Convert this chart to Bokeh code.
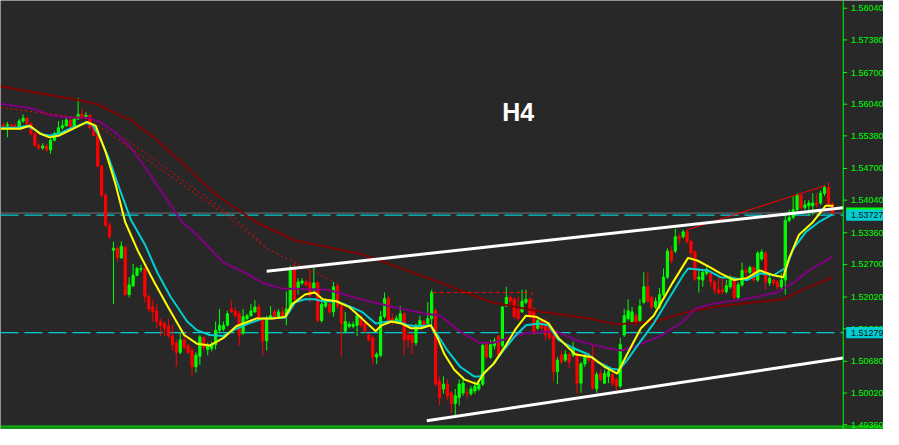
from bokeh.plotting import figure
from bokeh.models import Span, Label, Range1d, ColumnDataSource
from bokeh.embed import file_html
from bokeh.resources import INLINE
from bokeh.core.properties import value

# ---------------- data (H4 candles) ----------------
opens = [
    1.55609, 1.55589, 1.55609, 1.55589, 1.55569, 1.55690, 1.55750, 1.55629, 1.55429, 1.55187,
    1.55127, 1.55167, 1.55087, 1.55288, 1.55429, 1.55549, 1.55589, 1.55710, 1.55569, 1.55730,
    1.55830, 1.55770, 1.55810, 1.55549, 1.55388, 1.54746, 1.54143, 1.53520, 1.52998, 1.53038,
    1.52837, 1.53058, 1.52074, 1.52254, 1.52475, 1.52596, 1.52616, 1.52033, 1.51812, 1.51732,
    1.51511, 1.51471, 1.51411, 1.51210, 1.51069, 1.50868, 1.51130, 1.51009, 1.50908, 1.50567,
    1.50788, 1.51170, 1.50928, 1.50949, 1.51029, 1.51330, 1.51350, 1.51431, 1.51772, 1.51732,
    1.51672, 1.51270, 1.51571, 1.51632, 1.51712, 1.51812, 1.51571, 1.51109, 1.51571, 1.51712,
    1.51611, 1.51712, 1.51632, 1.51772, 1.52616, 1.52214, 1.52315, 1.52335, 1.52315, 1.52174,
    1.52315, 1.51531, 1.51832, 1.51873, 1.51712, 1.52254, 1.51832, 1.51310, 1.51411, 1.51411,
    1.51431, 1.51611, 1.51471, 1.51230, 1.51170, 1.50768, 1.50808, 1.51611, 1.51993, 1.51571,
    1.51511, 1.51511, 1.51672, 1.51230, 1.51230, 1.51069, 1.51431, 1.51511, 1.51471, 1.51571,
    1.51732, 1.50265, 1.50105, 1.50205, 1.50024, 1.49803, 1.49924, 1.50024, 1.50024, 1.50004,
    1.50065, 1.50105, 1.50205, 1.51029, 1.50768, 1.51009, 1.51210, 1.51009, 1.51832, 1.52013,
    1.51973, 1.51772, 1.51712, 1.51913, 1.51973, 1.51772, 1.51370, 1.51511, 1.51431, 1.51411,
    1.51210, 1.50466, 1.50808, 1.50707, 1.50828, 1.50808, 1.50828, 1.50225, 1.50627, 1.50828,
    1.50707, 1.50105, 1.50426, 1.50225, 1.50366, 1.50406, 1.50306, 1.50165, 1.51230, 1.51571,
    1.51511, 1.51632, 1.51531, 1.51913, 1.52234, 1.52013, 1.51812, 1.51812, 1.52074, 1.52435,
    1.52978, 1.52978, 1.53279, 1.53279, 1.53379, 1.53178, 1.52958, 1.52395, 1.52375, 1.52516,
    1.52516, 1.52335, 1.52174, 1.52174, 1.52134, 1.52234, 1.52415, 1.52013, 1.52274, 1.52576,
    1.52536, 1.52636, 1.52375, 1.52817, 1.52937, 1.52315, 1.52375, 1.52335, 1.52234, 1.52375,
    1.53620, 1.53681, 1.53841, 1.54143, 1.53882, 1.53922, 1.53922, 1.53982, 1.53982, 1.54183,
    1.54304, 1.53942,
]
highs = [
    1.55650, 1.55670, 1.55629, 1.55650, 1.55730, 1.55830, 1.55770, 1.55670, 1.55449, 1.55228,
    1.55228, 1.55208, 1.55328, 1.55469, 1.55690, 1.55710, 1.55750, 1.55730, 1.55770, 1.56172,
    1.55951, 1.55871, 1.55830, 1.55629, 1.55449, 1.54786, 1.54183, 1.53580, 1.53178, 1.53078,
    1.53178, 1.53078, 1.52435, 1.52716, 1.52656, 1.52696, 1.52636, 1.52074, 1.51973, 1.51873,
    1.51571, 1.51511, 1.51571, 1.51431, 1.51130, 1.51270, 1.51230, 1.51049, 1.50969, 1.50868,
    1.51230, 1.51210, 1.51069, 1.51089, 1.51511, 1.51772, 1.51511, 1.51732, 1.51953, 1.51812,
    1.51732, 1.51772, 1.51672, 1.51873, 1.51953, 1.51873, 1.51611, 1.51632, 1.51832, 1.51772,
    1.51772, 1.51812, 1.52134, 1.52676, 1.52716, 1.52415, 1.52415, 1.52395, 1.52576, 1.52636,
    1.52355, 1.51913, 1.51973, 1.51913, 1.52335, 1.52315, 1.51873, 1.51712, 1.51511, 1.51511,
    1.51672, 1.51652, 1.51511, 1.51270, 1.51210, 1.50868, 1.51732, 1.52114, 1.52033, 1.51672,
    1.51632, 1.51832, 1.51712, 1.51330, 1.51270, 1.51471, 1.51632, 1.51551, 1.51913, 1.52174,
    1.51772, 1.50366, 1.50366, 1.50306, 1.50065, 1.50105, 1.50306, 1.50326, 1.50125, 1.50165,
    1.50265, 1.50265, 1.51069, 1.51069, 1.51130, 1.51170, 1.51230, 1.51832, 1.52234, 1.52053,
    1.52013, 1.52033, 1.52174, 1.52174, 1.52013, 1.51812, 1.51571, 1.51531, 1.51571, 1.51451,
    1.51310, 1.50768, 1.50908, 1.50908, 1.50868, 1.51089, 1.50868, 1.50667, 1.50868, 1.50868,
    1.51009, 1.50466, 1.50507, 1.50507, 1.50507, 1.50446, 1.50346, 1.51169, 1.51772, 1.51973,
    1.51812, 1.51672, 1.51973, 1.52536, 1.52536, 1.52053, 1.52013, 1.52214, 1.52616, 1.53038,
    1.53078, 1.53440, 1.53339, 1.53420, 1.53420, 1.53219, 1.52998, 1.52616, 1.52576, 1.52656,
    1.52576, 1.52375, 1.52435, 1.52435, 1.52375, 1.52475, 1.52455, 1.52335, 1.52737, 1.52636,
    1.52676, 1.52656, 1.52978, 1.53018, 1.52978, 1.52516, 1.52395, 1.52375, 1.52516, 1.53781,
    1.53841, 1.54123, 1.54183, 1.54183, 1.54042, 1.54042, 1.54183, 1.54183, 1.54243, 1.54344,
    1.54424, 1.54002,
]
lows = [
    1.55529, 1.55348, 1.55549, 1.55509, 1.55549, 1.55650, 1.55609, 1.55388, 1.55147, 1.55087,
    1.55087, 1.55047, 1.55007, 1.55268, 1.55408, 1.55509, 1.55569, 1.55529, 1.55549, 1.55710,
    1.55730, 1.55750, 1.55509, 1.55368, 1.54725, 1.54103, 1.53480, 1.53239, 1.51873, 1.52757,
    1.52817, 1.52033, 1.52013, 1.52234, 1.52455, 1.52536, 1.51913, 1.51712, 1.51511, 1.51370,
    1.51210, 1.51210, 1.51170, 1.50908, 1.50567, 1.50828, 1.50928, 1.50828, 1.50366, 1.50446,
    1.50607, 1.50908, 1.50808, 1.50888, 1.50928, 1.51270, 1.51310, 1.51411, 1.51692, 1.51591,
    1.51009, 1.51230, 1.51531, 1.51611, 1.51692, 1.51511, 1.50808, 1.50908, 1.51551, 1.51531,
    1.51571, 1.51571, 1.51431, 1.51712, 1.51953, 1.52074, 1.52274, 1.52234, 1.51913, 1.52094,
    1.51491, 1.51491, 1.51792, 1.51672, 1.51611, 1.51772, 1.50768, 1.51270, 1.51370, 1.51370,
    1.51210, 1.51390, 1.51270, 1.51089, 1.50607, 1.50627, 1.50768, 1.51571, 1.51471, 1.51431,
    1.51471, 1.51471, 1.50808, 1.50969, 1.50828, 1.51009, 1.51390, 1.51390, 1.51431, 1.51431,
    1.50165, 1.49763, 1.50004, 1.49864, 1.49602, 1.49562, 1.49763, 1.49964, 1.49904, 1.49964,
    1.50004, 1.50065, 1.50165, 1.50728, 1.50728, 1.50928, 1.50768, 1.50969, 1.51812, 1.51832,
    1.51571, 1.51531, 1.51692, 1.51873, 1.51571, 1.51230, 1.51330, 1.51310, 1.51129, 1.51129,
    1.50265, 1.50205, 1.50627, 1.50667, 1.50527, 1.50768, 1.50004, 1.50024, 1.50567, 1.50667,
    1.50085, 1.50024, 1.50265, 1.50205, 1.50225, 1.50165, 1.50004, 1.50125, 1.51190, 1.51531,
    1.51471, 1.51431, 1.51491, 1.51873, 1.51893, 1.51772, 1.51772, 1.51772, 1.52033, 1.52395,
    1.52716, 1.52937, 1.53118, 1.53239, 1.53138, 1.52837, 1.52355, 1.52114, 1.52234, 1.52475,
    1.52234, 1.52074, 1.52074, 1.52074, 1.52094, 1.52194, 1.51973, 1.51973, 1.52234, 1.52435,
    1.52495, 1.52335, 1.52335, 1.52777, 1.52174, 1.52254, 1.52254, 1.52174, 1.52174, 1.52074,
    1.53580, 1.53641, 1.53801, 1.53841, 1.53841, 1.53721, 1.53721, 1.53882, 1.53942, 1.54123,
    1.53902, 1.53741,
]
closes = [
    1.55589, 1.55609, 1.55589, 1.55569, 1.55690, 1.55750, 1.55629, 1.55429, 1.55187, 1.55127,
    1.55167, 1.55087, 1.55288, 1.55429, 1.55549, 1.55589, 1.55710, 1.55569, 1.55730, 1.55830,
    1.55770, 1.55810, 1.55549, 1.55388, 1.54746, 1.54143, 1.53520, 1.53279, 1.53038, 1.52837,
    1.53078, 1.52074, 1.52274, 1.52475, 1.52616, 1.52616, 1.52033, 1.51772, 1.51712, 1.51511,
    1.51431, 1.51370, 1.51210, 1.51029, 1.50868, 1.51130, 1.50969, 1.50868, 1.50567, 1.50808,
    1.51190, 1.50969, 1.51009, 1.51029, 1.51330, 1.51431, 1.51431, 1.51672, 1.51712, 1.51632,
    1.51230, 1.51611, 1.51632, 1.51732, 1.51812, 1.51571, 1.51109, 1.51571, 1.51632, 1.51571,
    1.51712, 1.51632, 1.51772, 1.52616, 1.51973, 1.52335, 1.52355, 1.52274, 1.52053, 1.52315,
    1.51531, 1.51873, 1.51913, 1.51712, 1.52234, 1.51832, 1.51471, 1.51511, 1.51451, 1.51451,
    1.51632, 1.51431, 1.51310, 1.51130, 1.50768, 1.50828, 1.51611, 1.51993, 1.51511, 1.51511,
    1.51571, 1.51672, 1.51130, 1.51130, 1.51069, 1.51431, 1.51531, 1.51431, 1.51571, 1.52114,
    1.50205, 1.49924, 1.50205, 1.49964, 1.49803, 1.49964, 1.50205, 1.50225, 1.50004, 1.50105,
    1.50165, 1.50205, 1.51009, 1.50768, 1.51029, 1.51109, 1.50808, 1.51812, 1.52013, 1.51933,
    1.51611, 1.51571, 1.51933, 1.51973, 1.51611, 1.51270, 1.51531, 1.51370, 1.51230, 1.51170,
    1.50466, 1.50707, 1.50667, 1.50828, 1.50667, 1.50969, 1.50225, 1.50627, 1.50768, 1.50707,
    1.50125, 1.50406, 1.50306, 1.50426, 1.50466, 1.50225, 1.50165, 1.51029, 1.51632, 1.51732,
    1.51712, 1.51471, 1.51832, 1.52234, 1.51933, 1.51812, 1.51933, 1.52074, 1.52435, 1.52978,
    1.52777, 1.53279, 1.53239, 1.53379, 1.53178, 1.52937, 1.52395, 1.52435, 1.52536, 1.52596,
    1.52335, 1.52174, 1.52114, 1.52134, 1.52254, 1.52415, 1.52013, 1.52274, 1.52576, 1.52536,
    1.52636, 1.52375, 1.52937, 1.52958, 1.52335, 1.52415, 1.52315, 1.52234, 1.52375, 1.53620,
    1.53681, 1.53841, 1.54143, 1.53882, 1.53942, 1.53982, 1.53982, 1.53942, 1.54183, 1.54304,
    1.53942, 1.53771,
]

# moving averages (bar index, price)
yellow_x = [-0.75, 4.25, 6.75, 9.25, 11.75, 14.25, 19.25, 21.25, 23.5, 26, 28.5, 31, 34.25, 38.5,
            41.75, 46, 49.25, 52.5, 56, 59.25, 64.25, 68.5, 71.75, 73.5, 76.75, 79.25, 81.25,
            84.75, 88, 91.25, 94.75, 96.25, 98.75, 101.25, 103.75, 106.25, 108.75, 110.5, 112.25,
            114.75, 117.25, 120.5, 122.25, 124.75, 128, 130.5, 133, 135.5, 138.75, 141.25, 145.5,
            149.75, 153, 156.25, 158.75, 162.25, 165.5, 170, 174.25, 176.75, 180, 182.5, 186,
            189.25, 192.5, 196, 198.5, 200, 202.5, 206, 209.25, 211.25]
yellow_y = [1.55529, 1.55529, 1.55589, 1.55429, 1.55348, 1.55388, 1.55589, 1.55670, 1.55589,
            1.55047, 1.54384, 1.53580, 1.52978, 1.52315, 1.51832, 1.51230, 1.51049, 1.51009,
            1.51169, 1.51411, 1.51571, 1.51571, 1.51611, 1.51873, 1.52074, 1.52114, 1.51973,
            1.51933, 1.51812, 1.51571, 1.51310, 1.51431, 1.51511, 1.51471, 1.51370, 1.51370,
            1.51431, 1.51169, 1.50828, 1.50507, 1.50306, 1.50205, 1.50426, 1.50627, 1.51029,
            1.51370, 1.51632, 1.51611, 1.51471, 1.51169, 1.50828, 1.50768, 1.50567, 1.50426,
            1.50828, 1.51370, 1.51632, 1.52274, 1.52837, 1.52777, 1.52636, 1.52516, 1.52375,
            1.52415, 1.52576, 1.52475, 1.52435, 1.52837, 1.53319, 1.53580, 1.53922, 1.53922]
cyan_x = [-0.75, 3.5, 6, 7.5, 10, 11.75, 14.25, 17.5, 21, 22.5, 24.25, 26.75, 29.25, 32.5, 36,
          39.25, 42.5, 46.75, 49.25, 52.5, 56, 58.5, 62.5, 66, 71.75, 74.25, 76.75, 79.25, 81.25,
          84.75, 88, 91.25, 94.75, 98, 100.5, 103, 105.5, 108.75, 110.5, 113, 116.25, 119.75,
          121.25, 122.25, 124.75, 127.25, 130.5, 133, 136.25, 138.75, 141.25, 144.75, 148.75,
          151.25, 154.75, 156.75, 158.75, 162.25, 165.5, 170, 173, 174.25, 179.25, 182.5, 186,
          189.25, 192.5, 196, 199.25, 201, 204.25, 207.5, 211]
cyan_y = [1.55549, 1.55549, 1.55589, 1.55529, 1.55408, 1.55388, 1.55429, 1.55549, 1.55650,
          1.55629, 1.55388, 1.54926, 1.54344, 1.53620, 1.53118, 1.52516, 1.52033, 1.51511,
          1.51330, 1.51230, 1.51210, 1.51330, 1.51471, 1.51571, 1.51591, 1.51913, 1.51973,
          1.51973, 1.51933, 1.51933, 1.51832, 1.51712, 1.51471, 1.51511, 1.51511, 1.51431,
          1.51411, 1.51431, 1.51230, 1.50908, 1.50567, 1.50366, 1.50366, 1.50426, 1.50627,
          1.50908, 1.51230, 1.51431, 1.51471, 1.51431, 1.51129, 1.50969, 1.50828, 1.50667,
          1.50527, 1.50507, 1.50707, 1.51109, 1.51471, 1.52074, 1.52475, 1.52616, 1.52576,
          1.52435, 1.52415, 1.52375, 1.52516, 1.52475, 1.52636, 1.53018, 1.53379, 1.53580,
          1.53741]
purple_x = [-0.75, 7.5, 11.75, 16, 21.75, 24.25, 28.5, 32.5, 36.75, 41, 45.5, 49.25, 56, 61.75,
            66, 71, 74.25, 82.5, 91, 99.25, 107.5, 111.25, 116, 121, 124.75, 128.75, 133, 140.5,
            146.25, 153, 157.25, 161.25, 167.25, 173, 176, 180, 188.5, 196.75, 201, 205, 211]
purple_y = [1.56051, 1.55951, 1.55810, 1.55770, 1.55750, 1.55690, 1.55449, 1.55127, 1.54645,
            1.54123, 1.53580, 1.53319, 1.52737, 1.52516, 1.52315, 1.52194, 1.52194, 1.52174,
            1.51973, 1.51812, 1.51672, 1.51632, 1.51310, 1.51069, 1.51069, 1.51169, 1.51270,
            1.51310, 1.51109, 1.50969, 1.50908, 1.51009, 1.51210, 1.51511, 1.51772, 1.51873,
            1.51973, 1.52114, 1.52315, 1.52576, 1.52857]
maroon_x = [-0.75, 11.75, 20, 24.25, 30, 32.5, 38.5, 45, 49.25, 54.25, 64.25, 74.25, 79.25, 91,
            107.5, 124.25, 136.75, 149.25, 156, 166, 174.25, 182.5, 191, 198.5, 203.5, 211]
maroon_y = [1.56413, 1.56232, 1.56112, 1.56031, 1.55790, 1.55710, 1.55328, 1.54846, 1.54525,
            1.54143, 1.53580, 1.53199, 1.53118, 1.52917, 1.52435, 1.51913, 1.51712, 1.51571,
            1.51451, 1.51511, 1.51712, 1.51832, 1.51913, 1.51973, 1.52174, 1.52435]

# drawn objects (bar index, price)
upper_trend_x = [67, 213.75]
upper_trend_y = [1.52556, 1.53882]
lower_trend_x = [107.75, 213.75]
lower_trend_y = [1.49442, 1.50748]
red_trend_x = [174, 209.25]
red_trend_y = [1.53420, 1.54344]
dot_a_x = [-0.75, 21.75, 56.75, 67.25, 84.25]
dot_a_y = [1.55971, 1.55730, 1.53721, 1.53018, 1.52335]
dot_b_x = [31, 59.25, 67.25]
dot_b_y = [1.55328, 1.53641, 1.53018]
dash_h_x = [109.25, 134.5, 134.5]
dash_h_y = [1.52114, 1.52114, 1.51913]

bid_price = 1.53771
level_hi = 1.53727
level_lo = 1.51279
tick_values = [1.58040, 1.57380, 1.56700, 1.56040, 1.55380, 1.54700, 1.54040,
               1.53360, 1.52700, 1.52020, 1.51360, 1.50680, 1.50020, 1.49360]
timeframe = "H4"

# ---------------- layout constants (data units) ----------------
X_START, X_END = -0.75, 224.0      # bar-index range of the whole picture
AXIS_X = 213.75                    # price scale boundary
Y_START, Y_END = 1.49260, 1.58201
TAG_HALF = 0.00118                 # half height of a price tag

BG = "#282828"
GREEN = "#00ff00"
RED = "#ff0000"
CYAN = "#00ced1"
FONT = value("Liberation Sans")

p = figure(width=883, height=429, output_backend="svg", toolbar_location=None,
           x_range=Range1d(X_START, X_END), y_range=Range1d(Y_START, Y_END),
           x_axis_location=None, y_axis_location=None,
           background_fill_color=BG, border_fill_color=BG,
           min_border_left=0, min_border_right=0, min_border_top=0, min_border_bottom=0)
p.grid.visible = False
p.outline_line_color = None

# horizontal levels (chart area only)
p.line([X_START, AXIS_X], [bid_price, bid_price], line_color="#6a6e7a", line_width=1)
for lvl in (level_hi, level_lo):
    p.line([X_START, AXIS_X], [lvl, lvl], line_color=CYAN, line_width=1.3, line_dash="18 6")

# candles
xs = list(range(len(closes)))
src = ColumnDataSource(dict(
    x=xs, h=highs, l=lows,
    top=[max(o, c) for o, c in zip(opens, closes)],
    bottom=[min(o, c) for o, c in zip(opens, closes)],
    color=[GREEN if c >= o else RED for o, c in zip(opens, closes)],
))
p.segment(x0="x", y0="h", x1="x", y1="l", line_color="color", line_width=1, source=src)
p.vbar(x="x", width=0.56, top="top", bottom="bottom", fill_color="color",
       line_color="color", line_width=1, source=src)

# moving averages
p.line(maroon_x, maroon_y, line_color="#800000", line_width=2)
p.line(purple_x, purple_y, line_color="#800080", line_width=2)
p.line(cyan_x, cyan_y, line_color=CYAN, line_width=2)
p.line(yellow_x, yellow_y, line_color="#ffff00", line_width=2)

# drawn objects
p.line(dot_a_x, dot_a_y, line_color=RED, line_width=1, line_dash="2 3")
p.line(dot_b_x, dot_b_y, line_color=RED, line_width=1, line_dash="2 3")
p.line(dash_h_x, dash_h_y, line_color=RED, line_width=1, line_dash="4 3")
p.line(red_trend_x, red_trend_y, line_color=RED, line_width=1)
p.line(upper_trend_x, upper_trend_y, line_color="white", line_width=3)
p.line(lower_trend_x, lower_trend_y, line_color="white", line_width=3)

# timeframe caption
p.add_layout(Label(x=131, y=1.55871, text=timeframe, text_color="white",
                   text_font="Liberation Sans", text_font_style="bold", text_font_size="25px",
                   text_align="center", text_baseline="middle"))

# price scale on the right
p.add_layout(Span(location=AXIS_X, dimension="height", line_color=GREEN, line_width=1))
p.add_layout(Span(location=1.49331, dimension="width", line_color=GREEN, line_width=1))
p.add_layout(Span(location=1.49291, dimension="width", line_color=GREEN, line_width=1))
p.segment(x0=[AXIS_X] * len(tick_values), y0=tick_values,
          x1=[AXIS_X + 1.0] * len(tick_values), y1=tick_values, line_color=GREEN, line_width=1)
p.text(x=[AXIS_X + 2.0] * len(tick_values), y=tick_values,
       text=["%.5f" % t for t in tick_values], text_color=GREEN,
       text_font=FONT, text_font_size=value("9px"),
       text_align="left", text_baseline="middle")

# price tags: bid tag first, the cyan level tags drawn over it
for tags, color in (([bid_price], GREEN), ([level_hi, level_lo], CYAN)):
    n = len(tags)
    p.quad(left=[AXIS_X + 0.75] * n, right=[X_END] * n,
           top=[t + TAG_HALF for t in tags], bottom=[t - TAG_HALF for t in tags],
           fill_color=color, line_color=None)
    p.text(x=[AXIS_X + 2.0] * n, y=tags, text=["%.5f" % t for t in tags], text_color="#141414",
           text_font=FONT, text_font_size=value("9px"),
           text_align="left", text_baseline="middle")

open("out.html", "w").write(file_html(p, INLINE))
